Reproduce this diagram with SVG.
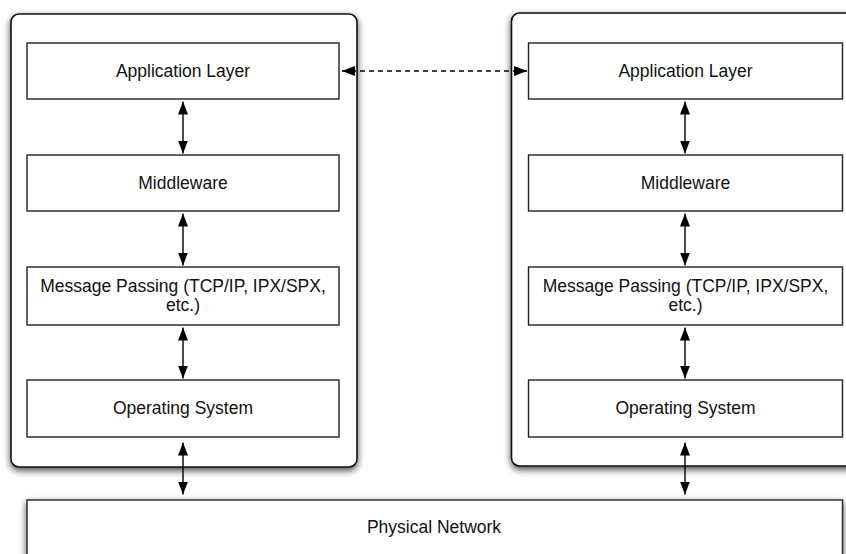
<svg xmlns="http://www.w3.org/2000/svg" width="846" height="554" viewBox="0 0 846 554">
  <defs>
    <filter id="shadow" x="-10%" y="-10%" width="120%" height="125%">
      <feDropShadow dx="0" dy="3" stdDeviation="3.5" flood-color="#000" flood-opacity="0.7"/>
    </filter>
    <marker id="head" viewBox="0 0 13 10" refX="13" refY="5" markerWidth="13" markerHeight="10" markerUnits="userSpaceOnUse" orient="auto-start-reverse">
      <path d="M0,0 L13,5 L0,10 Z" fill="#000"/>
    </marker>
    <style>
      .host { fill: #fff; stroke: #111; stroke-width: 1.6; }
      .layer { fill: #fff; stroke: #222; stroke-width: 1.4; }
      .label { font-family: "Liberation Sans", Arial, Helvetica, sans-serif; font-size: 17.5px; fill: #111; text-anchor: middle; }
      .link { stroke: #000; stroke-width: 1.4; fill: none; marker-start: url(#head); marker-end: url(#head); }
      .dashed { stroke-dasharray: 5 4; }
    </style>
  </defs>

  <!-- host containers -->
  <g id="host-left">
    <rect class="host" x="11" y="14" width="346" height="453" rx="8" ry="8" filter="url(#shadow)"/>
  </g>
  <g id="host-right">
    <rect class="host" x="511.5" y="13" width="346" height="453" rx="8" ry="8" filter="url(#shadow)"/>
  </g>

  <!-- shared network -->
  <g id="physical-network">
    <rect class="layer" x="27" y="500" width="815.5" height="70" filter="url(#shadow)"/>
    <text class="label" x="434" y="533">Physical Network</text>
  </g>

  <!-- left stack -->
  <g id="left-application">
    <rect class="layer" x="27" y="43" width="312" height="56"/>
    <text class="label" x="183" y="77">Application Layer</text>
  </g>
  <g id="left-middleware">
    <rect class="layer" x="27" y="155" width="312" height="56"/>
    <text class="label" x="183" y="189">Middleware</text>
  </g>
  <g id="left-messaging">
    <rect class="layer" x="27" y="267" width="312" height="58"/>
    <text class="label" x="183" y="292">Message Passing (TCP/IP, IPX/SPX,</text>
    <text class="label" x="183" y="311">etc.)</text>
  </g>
  <g id="left-os">
    <rect class="layer" x="27" y="380" width="312" height="57"/>
    <text class="label" x="183" y="414">Operating System</text>
  </g>

  <!-- right stack -->
  <g id="right-application">
    <rect class="layer" x="528.5" y="43" width="314" height="56"/>
    <text class="label" x="685.5" y="77">Application Layer</text>
  </g>
  <g id="right-middleware">
    <rect class="layer" x="528.5" y="155" width="314" height="56"/>
    <text class="label" x="685.5" y="189">Middleware</text>
  </g>
  <g id="right-messaging">
    <rect class="layer" x="528.5" y="267" width="314" height="58"/>
    <text class="label" x="685.5" y="292">Message Passing (TCP/IP, IPX/SPX,</text>
    <text class="label" x="685.5" y="311">etc.)</text>
  </g>
  <g id="right-os">
    <rect class="layer" x="528.5" y="380" width="314" height="57"/>
    <text class="label" x="685.5" y="414">Operating System</text>
  </g>

  <!-- connectors -->
  <g id="connectors">
    <line class="link dashed" x1="342" y1="71" x2="527" y2="71"/>
    <line class="link" x1="183" y1="101.5" x2="183" y2="153.5"/>
    <line class="link" x1="183" y1="213.5" x2="183" y2="265.5"/>
    <line class="link" x1="183" y1="327.5" x2="183" y2="378.5"/>
    <line class="link" x1="183" y1="442.5" x2="183" y2="494.5"/>
    <line class="link" x1="685" y1="101.5" x2="685" y2="153.5"/>
    <line class="link" x1="685" y1="213.5" x2="685" y2="265.5"/>
    <line class="link" x1="685" y1="327.5" x2="685" y2="378.5"/>
    <line class="link" x1="685" y1="442.5" x2="685" y2="494.5"/>
  </g>
</svg>
